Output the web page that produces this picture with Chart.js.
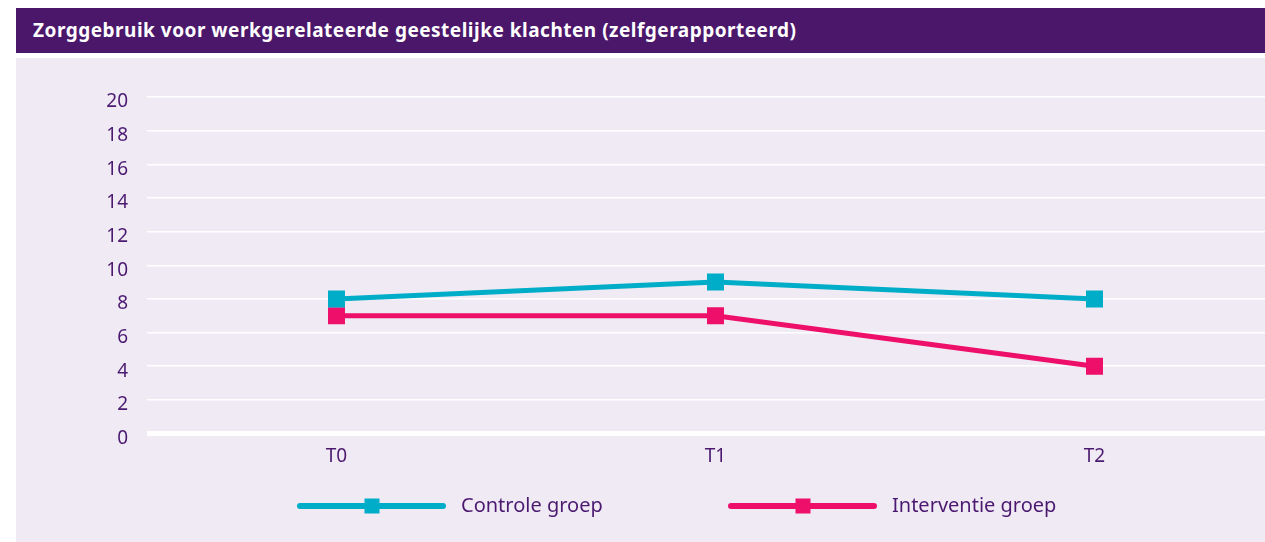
<!DOCTYPE html>
<html>
<head>
<meta charset="utf-8">
<script src="https://cdn.jsdelivr.net/npm/chart.js@4"></script>
<style>
  html, body { margin: 0; padding: 0; background: #ffffff; }
  body { width: 1265px; height: 542px; position: relative; overflow: hidden; }
  .title {
    position: absolute; left: 16px; top: 8px; width: 1249px; height: 45px;
    background: #4b176b; color: #ffffff;
    font: bold 19px "Noto Sans", sans-serif; line-height: 45px; letter-spacing: 0.5px;
    box-sizing: border-box; padding-left: 17px;
  }
  .panel {
    position: absolute; left: 16px; top: 58px; width: 1249px; height: 484px;
    background: #f0eaf4; overflow: hidden;
  }
  .panel canvas { position: absolute; left: 0; top: 0; }
</style>
</head>
<body>
<div class="title">Zorggebruik voor werkgerelateerde geestelijke klachten (zelfgerapporteerd)</div>
<div class="panel"><canvas id="zorgChart" width="1290" height="484"></canvas></div>
<script>
document.addEventListener("DOMContentLoaded", () => {
  // ===== DATA =====
  const categories = ["T0", "T1", "T2"];
  const controleGroep = [8, 9, 8];
  const interventieGroep = [7, 7, 4];
  const seriesNames = ["Controle groep", "Interventie groep"];
  const yTicks = [0, 2, 4, 6, 8, 10, 12, 14, 16, 18, 20];

  const textColor = "#4b1a70";
  const cyan = "#00adc8";
  const pink = "#ee0f6a";

  // legend drawn as line + square, below the axis
  const lineLegend = {
    id: "lineLegend",
    afterDraw(chart) {
      const ctx = chart.ctx;
      const y = 448;
      const items = [
        { x: 284, ds: chart.data.datasets[0] },
        { x: 715, ds: chart.data.datasets[1] }
      ];
      ctx.save();
      items.forEach(({ x, ds }) => {
        ctx.strokeStyle = ds.borderColor;
        ctx.lineWidth = 6;
        ctx.lineCap = "round";
        ctx.beginPath();
        ctx.moveTo(x, y);
        ctx.lineTo(x + 143, y);
        ctx.stroke();
        ctx.fillStyle = ds.borderColor;
        ctx.fillRect(x + 72 - 7.5, y - 7.5, 15, 15);
        ctx.fillStyle = textColor;
        ctx.font = "20px 'Noto Sans', sans-serif";
        ctx.textBaseline = "middle";
        ctx.textAlign = "left";
        ctx.fillText(ds.label, x + 161, y);
      });
      ctx.restore();
    }
  };

  const ctx = document.getElementById("zorgChart");
  new Chart(ctx, {
    type: "line",
    data: {
      labels: categories,
      datasets: [
        {
          label: seriesNames[0],
          data: controleGroep,
          borderColor: cyan,
          backgroundColor: cyan,
          borderWidth: 5,
          pointStyle: "rect",
          pointRadius: 12,
          pointHoverRadius: 12,
          pointBorderWidth: 0,
          tension: 0
        },
        {
          label: seriesNames[1],
          data: interventieGroep,
          borderColor: pink,
          backgroundColor: pink,
          borderWidth: 5,
          pointStyle: "rect",
          pointRadius: 12,
          pointHoverRadius: 12,
          pointBorderWidth: 0,
          tension: 0
        }
      ]
    },
    options: {
      responsive: false,
      animation: false,
      layout: { padding: { top: 39, right: 22, left: 0, bottom: 0 } },
      plugins: {
        legend: { display: false },
        tooltip: { enabled: false },
        title: { display: false }
      },
      scales: {
        x: {
          offset: true,
          grid: { display: false, drawTicks: false },
          border: { display: false },
          ticks: {
            color: textColor,
            font: { family: "'Noto Sans', sans-serif", size: 19 },
            padding: 12
          },
          afterFit: (scale) => { scale.height = 108.5; }
        },
        y: {
          min: 0,
          max: 20,
          afterBuildTicks: (scale) => { scale.ticks = yTicks.map(v => ({ value: v })); },
          grid: {
            color: "#ffffff",
            lineWidth: (c) => (c.tick && c.tick.value === 0 ? 5 : 1.5),
            drawTicks: false
          },
          border: { display: false },
          ticks: {
            color: textColor,
            font: { family: "'Noto Sans', sans-serif", size: 19 },
            padding: 19,
            labelOffset: 5
          },
          afterFit: (scale) => { scale.width = 131; }
        }
      }
    },
    plugins: [lineLegend]
  });
});
</script>
</body>
</html>
